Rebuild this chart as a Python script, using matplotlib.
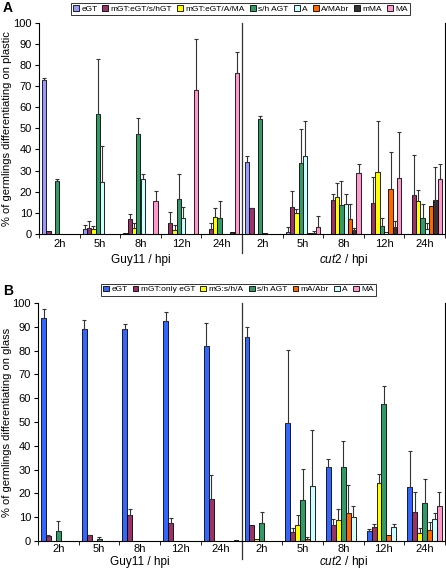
import numpy as np
import matplotlib.pyplot as plt
from matplotlib.patches import Patch

plt.rcParams['font.family'] = ['Liberation Sans', 'DejaVu Sans']
plt.rcParams['mathtext.fontset'] = 'custom'
plt.rcParams['mathtext.rm'] = 'Liberation Sans'
plt.rcParams['mathtext.it'] = 'Liberation Sans:italic'

hours = ["2h", "5h", "8h", "12h", "24h", "2h", "5h", "8h", "12h", "24h"]

# panel A - plastic
names_a = ["eGT", "mGT:eGT/s/hGT", "mGT:eGT/A/MA", "s/h AGT", "A", "A/MAbr", "mMA", "MA"]
cols_a = ["#9999FF", "#993366", "#FFFF00", "#339966", "#CCFFFF", "#FF6600", "#333333", "#FF99CC"]
vals_a = [
    [73, 2.4, 0.3, 0, 0, 34.1, 1.1, 0, 0, 0],
    [1.4, 2.7, 7, 5.1, 2.4, 12.2, 12.9, 16.1, 14.5, 18.5],
    [0, 2.2, 2.7, 1.9, 7.9, 0, 10.1, 17.4, 29.2, 15.8],
    [25.3, 57, 47.5, 16.4, 7.6, 54.5, 33.5, 13.7, 3.9, 7.4],
    [0, 24.8, 25.9, 7.7, 0, 0.7, 37, 14.1, 1.1, 2.2],
    [0, 0, 0, 0, 0, 0, 0.5, 7.1, 21.2, 13.3],
    [0, 0, 0, 0, 1.1, 0, 0.5, 1.9, 3.2, 16.1],
    [0, 0, 15.8, 68, 76, 0, 3.5, 28.8, 26.4, 25.9],
]
errs_a = [
    [1, 2, 0, 0, 0, 3, 2.1, 0, 0, 0],
    [0, 3.5, 2.3, 5.5, 2.7, 0.3, 7.3, 2.9, 12.4, 18.9],
    [0, 1.6, 2.4, 2.4, 4.3, 0, 1.6, 6.6, 24.5, 5.1],
    [0.9, 26, 7.5, 11.9, 8.2, 1.5, 16.1, 11.3, 3.5, 6.7],
    [0, 16.7, 2.4, 5.2, 0, 0, 16.7, 4.9, 0, 2.8],
    [0, 0, 0, 0, 0, 0, 0, 6.9, 17.8, 0],
    [0, 0, 0, 0, 0, 0, 1, 1.1, 2.8, 15.5],
    [0, 0, 4.7, 24.5, 10, 0, 5, 4.4, 21.8, 7.3],
]

# panel B - glass
names_b = ["eGT", "mGT:only eGT", "mG:s/h/A", "s/h AGT", "mA/Abr", "A", "MA"]
cols_b = ["#3366FF", "#993366", "#FFFF00", "#339966", "#FF6600", "#CCFFFF", "#FF99CC"]
vals_b = [
    [93.9, 89, 89.1, 92.5, 82, 85.6, 49.7, 31, 4.1, 22.8],
    [2.2, 2.4, 10.9, 7.4, 17.7, 6.7, 3.9, 6.7, 6, 12.3],
    [0, 0, 0, 0, 0, 0.7, 6.7, 8.8, 24.2, 3.2],
    [4.2, 0.8, 0, 0, 0, 7.4, 17.2, 31.2, 57.6, 15.8],
    [0, 0, 0, 0, 0, 0, 0.7, 11.9, 2.5, 4.6],
    [0, 0, 0, 0, 0, 0, 23.1, 10.2, 6, 9.1],
    [0, 0, 0, 0, 0.4, 0, 0, 0, 0, 14.7],
]
errs_b = [
    [3.5, 3.9, 2, 3.9, 9.5, 4.5, 30.6, 3.5, 0.9, 15],
    [0.3, 0.2, 2.4, 2.1, 10, 0, 1.7, 2.4, 1.1, 8.2],
    [0, 0, 0, 0, 0, 0, 4.2, 4.5, 3.8, 2.4],
    [4.2, 0.7, 0, 0, 0, 4.9, 12.9, 10.8, 7.6, 10.1],
    [0, 0, 0, 0, 0, 0, 1.1, 11.6, 0, 3.3],
    [0, 0, 0, 0, 0, 0, 23.6, 4.5, 1, 2.5],
    [0, 0, 0, 0, 0, 0, 0, 0, 0, 5.8],
]

W, H = 446, 570
fig = plt.figure(figsize=(W / 100, H / 100), dpi=100)


def panel(rect, names, cols, vals, errs, ylab, leg_xy, letter, letter_y, tick_off, lab_off, line_off):
    l, t, r, b = rect
    ax = fig.add_axes([l / W, 1 - b / H, (r - l) / W, (b - t) / H])
    hpx = b - t
    n = len(names)
    w = 0.85 / n
    x = np.arange(10)
    for i in range(n):
        xi = x - 0.425 + w * (i + 0.5)
        v = np.array(vals[i], dtype=float)
        e = np.array(errs[i], dtype=float)
        ax.bar(xi, v, w, color=cols[i], edgecolor="black", linewidth=0.6, zorder=2)
        m = e > 0
        ax.errorbar(xi[m], v[m], yerr=[np.zeros(m.sum()), e[m]], fmt="none",
                    ecolor="#333333", elinewidth=0.8, capsize=1.6, capthick=0.8, zorder=3)
    ax.set_xlim(-0.5, 9.5)
    ax.set_ylim(0, 100)
    ax.set_yticks(range(0, 101, 10))
    ax.set_xticks([])
    ax.set_xticks(np.arange(-0.5, 10, 1), minor=True)
    ax.tick_params(axis="x", which="minor", length=3, direction="out", labelbottom=False)
    ax.tick_params(axis="y", labelsize=8, length=3, pad=2)
    ax.spines["top"].set_visible(False)
    for s in ax.spines.values():
        s.set_linewidth(0.8)
    tr = ax.get_xaxis_transform()
    for xi, h in zip(x, hours):
        ax.text(xi, -tick_off / hpx, h, transform=tr, ha="center", va="center", fontsize=8)
    fig.text(7 / W, 1 - (t + b) / 2 / H, ylab, rotation=90, ha="center", va="center", fontsize=8)
    ax.plot([4.5, 4.5], [1, -line_off / hpx], color="#333333", lw=0.9,
            transform=tr, clip_on=False)
    ax.text(2, -lab_off / hpx, "Guy11 / hpi", transform=tr,
            ha="center", va="center", fontsize=8.5)
    ax.text(7, -lab_off / hpx, r"$\it{cut2}$ / hpi", transform=tr,
            ha="center", va="center", fontsize=8.5)
    handles = [Patch(facecolor=c, edgecolor="black", linewidth=0.6) for c in cols]
    leg = fig.legend(handles, names, loc="center", bbox_to_anchor=(leg_xy[0] / W, 1 - leg_xy[1] / H),
                     ncol=n, fontsize=6, frameon=True, fancybox=False, handlelength=0.7,
                     handleheight=0.7, handletextpad=0.3, columnspacing=0.6, borderpad=0.25)
    leg.get_frame().set_edgecolor("black")
    leg.get_frame().set_linewidth(0.7)
    fig.text(3 / W, 1 - letter_y / H, letter, fontsize=10, fontweight="bold", va="center")
    return ax


panel((39, 22.7, 445, 234), names_a, cols_a, vals_a, errs_a,
      "% of germlings differentiating on plastic", (240.5, 9), "A", 8, 10, 26, 19)
panel((38, 303.1, 445, 541), names_b, cols_b, vals_b, errs_b,
      "% of germlings differentiating on glass", (238.5, 289.5), "B", 291, 7.5, 21, 18)

fig.savefig("out.png", dpi=100)
